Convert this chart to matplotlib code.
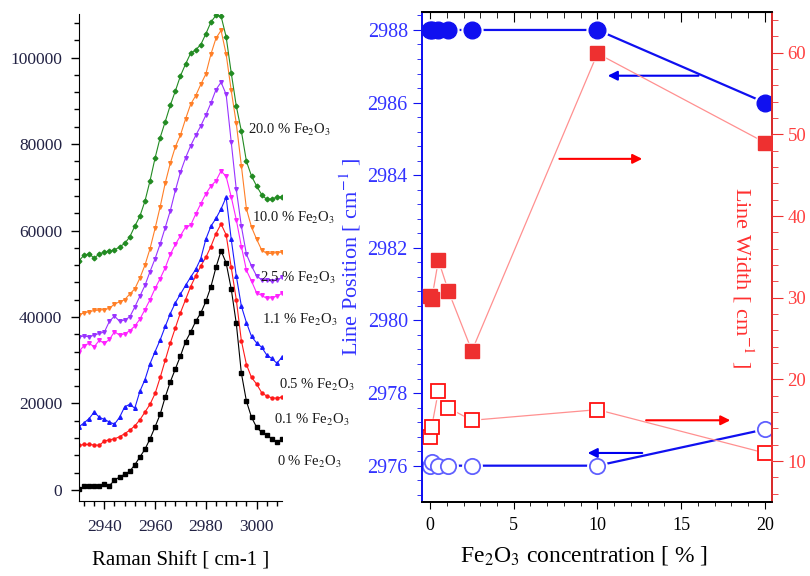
import matplotlib.pyplot as plt
import numpy as np
from matplotlib.ticker import MultipleLocator

plt.rcParams['font.family'] = ['Liberation Serif', 'DejaVu Serif']
plt.rcParams['mathtext.fontset'] = 'stix'

# ---- left panel: Raman spectra (offset), one point every 2 cm-1 ----
raman_shift = np.arange(2930, 3011, 2)

spec_0 = [100, 800, 800, 900, 1000, 1300, 1000, 2200, 3000, 3600,
          4300, 5800, 7600, 9400, 11800, 14600, 17500, 21500, 25000, 28000,
          31000, 34300, 36500, 39000, 40900, 43600, 47000, 51500, 55300, 52500,
          46500, 38500, 27000, 20500, 16800, 14500, 13300, 12700, 11800, 11000,
          11700]
spec_01 = [10300, 10500, 10500, 10400, 10300, 11300, 11600, 11800, 12300, 13000,
           13800, 14800, 16200, 18000, 19800, 22300, 26000, 30000, 34000, 37500,
           41000, 44000, 47000, 49500, 51800, 53800, 56300, 59300, 61500, 59000,
           51500, 44000, 34500, 29000, 26000, 24500, 22500, 21700, 21300, 21200,
           21500]
spec_05 = [14600, 15500, 16500, 18000, 16800, 16300, 15700, 15200, 16800, 19200,
           19800, 18900, 22800, 25500, 29200, 32000, 34700, 37800, 40800, 43300,
           45300, 47300, 49200, 51000, 53500, 58000, 61000, 62800, 65000, 67700,
           58000, 49500, 42500, 38700, 35500, 34000, 33000, 31200, 30400, 29300,
           30700]
spec_11 = [32000, 33400, 33900, 33100, 34600, 33900, 34800, 36600, 35800, 36100,
           36800, 37900, 39500, 41700, 44000, 46600, 48900, 51400, 54500, 56800,
           58800, 60800, 61200, 63800, 66200, 68500, 70300, 71500, 73800, 72500,
           67800, 62500, 56300, 50800, 48300, 45600, 45000, 44300, 44500, 44800,
           45500]
spec_25 = [35400, 35600, 35400, 35800, 36200, 36500, 39000, 40200, 39000, 39300,
           40000, 42300, 44800, 47300, 50500, 53500, 56900, 60700, 64600, 69300,
           73500, 76800, 79600, 82000, 84200, 86700, 89500, 92600, 94300, 91500,
           80500, 69500, 61000, 54500, 51800, 49500, 48600, 48500, 48300, 48500,
           49200]
spec_10 = [40400, 41000, 41200, 41500, 41600, 41700, 42000, 43000, 43500, 44000,
           45300, 46500, 49000, 52000, 55800, 60500, 65500, 71000, 75600, 79400,
           82100, 85800, 89200, 91200, 93800, 96200, 100800, 104500, 106300, 100800,
           92400, 84800, 75000, 65000, 60800, 58000, 55500, 54700, 54700, 54900,
           55000]
spec_20 = [53000, 54300, 54600, 53600, 54600, 55000, 55300, 55500, 56200, 57000,
           58500, 61000, 63300, 66800, 71500, 76800, 81500, 85200, 89000, 92300,
           95800, 98500, 101000, 101800, 103000, 105500, 108200, 109800, 109600, 104800,
           96500, 88800, 83000, 76000, 72600, 70300, 68300, 67200, 67300, 67700,
           67800]

spec_labels = ["0 % Fe$_2$O$_3$", "0.1 % Fe$_2$O$_3$", "0.5 % Fe$_2$O$_3$",
               "1.1 % Fe$_2$O$_3$", "2.5 % Fe$_2$O$_3$", "10.0 % Fe$_2$O$_3$",
               "20.0 % Fe$_2$O$_3$"]

# ---- right panel: line position / line width vs concentration ----
conc = [0, 0.1, 0.5, 1.1, 2.5, 10, 20]
pos_band1 = [2988, 2988, 2988, 2988, 2988, 2988, 2986]
pos_band2 = [2976.0, 2976.1, 2976.0, 2976.0, 2976.0, 2976.0, 2977.0]
width_band1 = [30.2, 29.8, 34.6, 30.8, 23.5, 59.9, 49.0]
width_band2 = [12.9, 14.2, 18.6, 16.5, 15.0, 16.3, 11.0]


fig = plt.figure(figsize=(8.1, 5.76), dpi=100)

# left panel
ax = fig.add_axes([0.0975, 0.130, 0.2506, 0.845])
styles = [
    (spec_0, 'black', 's', 3.5),
    (spec_01, '#ff1a1a', 'o', 2.2),
    (spec_05, '#1a1aff', '^', 2.6),
    (spec_11, '#ff22ff', 'v', 2.6),
    (spec_25, '#9933ff', 'v', 2.6),
    (spec_10, '#ff7f27', 'v', 2.6),
    (spec_20, '#228b22', 'D', 2.4),
]
for ys, col, mk, ms in styles:
    ax.plot(raman_shift, ys, color=col, lw=0.8, marker=mk, ms=ms)

label_pos = [(3008.2, 6400), (3007.0, 16100), (3009.0, 24200), (3002.2, 39200),
             (3001.5, 49000), (2998.3, 62800), (2996.7, 83200)]
for (lx, ly), txt in zip(label_pos, spec_labels):
    ax.text(lx, ly, txt, fontsize=10.5, ha='left', va='center', color='#1a1a1a')

ax.set_xlim(2930, 3010)
ax.set_ylim(-2600, 110000)
ax.spines['top'].set_visible(False)
ax.spines['right'].set_visible(False)
ax.xaxis.set_major_locator(MultipleLocator(20))
ax.xaxis.set_minor_locator(MultipleLocator(4))
ax.yaxis.set_major_locator(MultipleLocator(20000))
ax.yaxis.set_minor_locator(MultipleLocator(4000))
ax.tick_params(which='major', length=6, width=1, labelsize=12.5,
               labelcolor='#222244')
ax.tick_params(which='minor', length=3.5, width=1)
ax.tick_params(axis='y', pad=6)
ax.tick_params(axis='x', pad=7)
ax.set_xlabel("Raman Shift [ cm-1 ]", fontsize=15, labelpad=12)

# right panel
ax1 = fig.add_axes([0.5214, 0.1285, 0.432, 0.851])
ax2 = ax1.twinx()

blue = '#1010f0'
red = '#ee3030'

ax1.plot(conc, pos_band1, color=blue, lw=1.6)
ax1.plot(conc, pos_band1, 'o', ms=15, color='white')
ax1.plot(conc, pos_band1, 'o', ms=12, color=blue)
ax1.plot(conc, pos_band2, color=blue, lw=1.6)
ax1.plot(conc, pos_band2, 'o', ms=14, color='white')
ax1.plot(conc, pos_band2, 'o', ms=11, mfc='white', mec='#6060ff', mew=1.3)

ax2.plot(conc, width_band1, color='#ff9090', lw=0.9)
ax2.plot(conc, width_band1, 's', ms=12, color='white')
ax2.plot(conc, width_band1, 's', ms=9.5, color=red)
ax2.plot(conc, width_band2, color='#ff9090', lw=0.9)
ax2.plot(conc, width_band2, 's', ms=12, color='white')
ax2.plot(conc, width_band2, 's', ms=9.5, mfc='white', mec='#ff1010', mew=1.3)

# arrows pointing to the axis each series belongs to
arrow_b = dict(arrowstyle='-|>', color='#0000ee', lw=1.5, mutation_scale=14)
arrow_r = dict(arrowstyle='-|>', color='#ff0000', lw=1.5, mutation_scale=14)
ax1.annotate('', xy=(10.45, 2986.74), xytext=(16.2, 2986.74), arrowprops=arrow_b)
ax1.annotate('', xy=(9.25, 2976.35), xytext=(12.84, 2976.35), arrowprops=arrow_b)
ax2.annotate('', xy=(12.84, 47.0), xytext=(7.56, 47.0), arrowprops=arrow_r)
ax2.annotate('', xy=(18.1, 15.0), xytext=(12.74, 15.0), arrowprops=arrow_r)

ax1.set_xlim(-0.46, 20.44)
ax1.set_ylim(2975.0, 2988.5)
ax2.set_ylim(5, 65)

ax1.xaxis.set_major_locator(MultipleLocator(5))
ax1.xaxis.set_minor_locator(MultipleLocator(1))
ax1.yaxis.set_major_locator(MultipleLocator(2))
ax1.yaxis.set_minor_locator(MultipleLocator(0.4))
ax2.yaxis.set_major_locator(MultipleLocator(10))
ax2.yaxis.set_minor_locator(MultipleLocator(2))

ax1.tick_params(axis='x', which='major', length=5, labelsize=13, pad=6)
ax1.tick_params(axis='x', which='minor', length=3)
ax1.tick_params(axis='y', which='major', length=6.5, color=blue,
                labelcolor='#3333ff', labelsize=14.5, pad=4)
ax1.tick_params(axis='y', which='minor', length=3.5, color=blue)
ax2.tick_params(axis='y', which='major', length=8, color=red,
                labelcolor='#ff4040', labelsize=13.5, pad=3)
ax2.tick_params(axis='y', which='minor', length=4, color=red)

top = ax1.secondary_xaxis('top')
top.xaxis.set_major_locator(MultipleLocator(5))
top.xaxis.set_minor_locator(MultipleLocator(1))
top.tick_params(which='major', direction='in', length=7, labeltop=False)
top.tick_params(which='minor', direction='in', length=4.5)

ax2.spines['left'].set_color(blue)
ax2.spines['right'].set_color(red)
ax1.spines['left'].set_color(blue)
for a in (ax1, ax2):
    for s in a.spines.values():
        s.set_linewidth(1.3)

ax1.set_xlabel("Fe$_2$O$_3$ concentration [ % ]", fontsize=17, labelpad=8)
ax1.xaxis.set_label_coords(0.462, -0.085)
ax1.text(-0.207, 0.50, "Line Position [ cm$^{-1}$ ]", transform=ax1.transAxes,
         rotation=90, ha='center', va='center', fontsize=16, color='#3333ff')
ax2.text(0.916, 0.459, "Line Width [ cm$^{-1}$ ]", transform=ax2.transAxes,
         rotation=270, ha='center', va='center', fontsize=16, color='#ff3030')

fig.savefig("out.png", dpi=100)
